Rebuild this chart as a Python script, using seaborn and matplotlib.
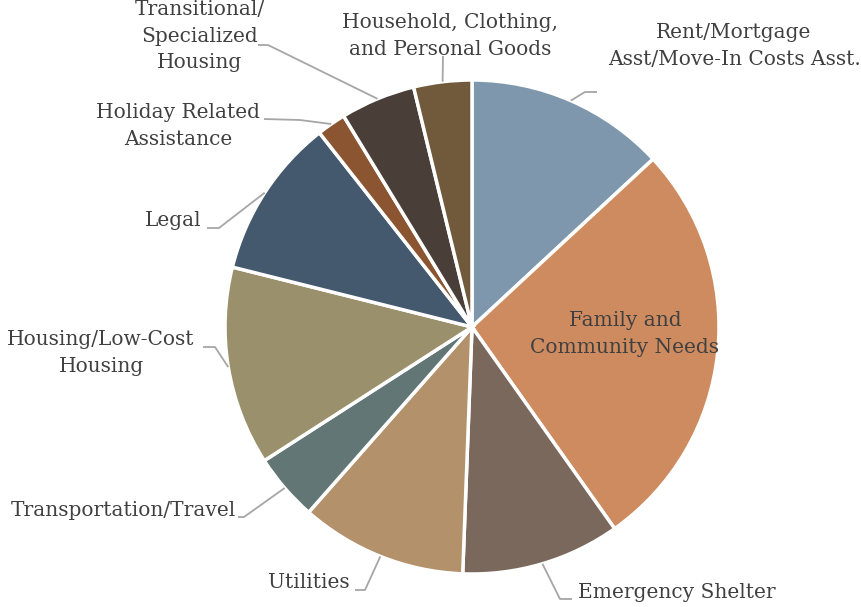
import numpy as np
import seaborn as sns
import matplotlib.pyplot as plt

# slices, clockwise from 12 o'clock
categories = ["Rent/Mortgage\nAsst/Move-In Costs Asst.", "Family and\nCommunity Needs",
              "Emergency Shelter", "Utilities", "Transportation/Travel",
              "Housing/Low-Cost\nHousing", "Legal", "Holiday Related\nAssistance",
              "Transitional/\nSpecialized\nHousing", "Household, Clothing,\nand Personal Goods"]
values = [13.1, 27.1, 10.4, 10.9, 4.4, 13.0, 10.5, 1.9, 4.9, 3.8]
colors = ["#7f97ad", "#cd8b5f", "#7a685d", "#b3916b", "#637676",
          "#9a916c", "#44596e", "#8a5530", "#4a3f38", "#715a3c"]

# label placement in pixel space (top-left origin): text x, y, align, elbow, end
label_pos = [
    (734, 46, "center", (585, 92), (597, 92)),
    (625, 334, "center", None, None),
    (578, 593, "left", (560, 599), (572, 599)),
    (350, 583, "right", (365, 590), (355, 590)),
    (236, 511, "right", (244, 517), (238, 517)),
    (101, 353, "center", (215, 347), (203, 347)),
    (202, 220, "right", (219, 228), (207, 228)),
    (178, 126, "center", (300, 120), (264, 119)),
    (200, 36, "center", (268, 45), (258, 45)),
    (450, 36, "center", (443, 56), (443, 56)),
]

W, H = 861, 607
cx, cy, R = 472, H - 327, 247

sns.set_theme(style="white")
plt.rcParams['font.family'] = ['DejaVu Serif']
pal = sns.color_palette(colors)

fig = plt.figure(figsize=(W / 100, H / 100), dpi=100)
ax = fig.add_axes([0, 0, 1, 1])
wedges, _ = ax.pie(values, colors=pal, startangle=90, counterclock=False,
                   center=(cx, cy), radius=R,
                   wedgeprops=dict(edgecolor="white", linewidth=2.5))
ax.set_xlim(0, W)
ax.set_ylim(0, H)
ax.set_aspect("equal")
ax.axis("off")

txt_color = "#404040"
for w, lab, (tx, ty, ha, elbow, end) in zip(wedges, categories, label_pos):
    ax.text(tx, H - ty, lab, ha=ha, va="center", fontsize=14.5, color=txt_color,
            linespacing=1.5)
    if elbow is None:
        continue
    mid = np.deg2rad((w.theta1 + w.theta2) / 2)
    sx, sy = cx + R * np.cos(mid), cy + R * np.sin(mid)
    ax.plot([sx, elbow[0], end[0]], [sy, H - elbow[1], H - end[1]],
            color="#a6a6a6", lw=1.3, solid_capstyle="butt")

fig.savefig("out.png", dpi=100)
